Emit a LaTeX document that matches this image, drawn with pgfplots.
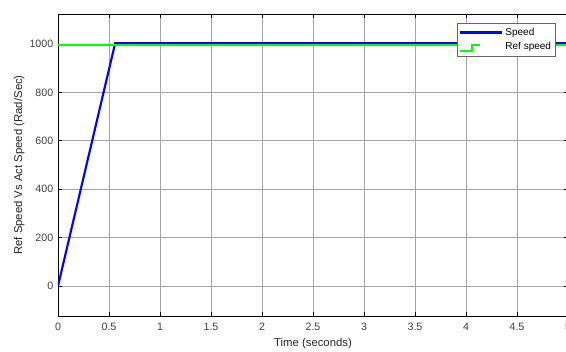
\documentclass[border=0pt]{standalone}
\usepackage{pgfplots}
\pgfplotsset{compat=1.18}
\usepackage{fontspec}
\setmainfont{Liberation Sans}
\definecolor{mblue}{RGB}{0,0,255}
\definecolor{mgreen}{RGB}{0,255,0}
\begin{document}
\begin{tikzpicture}
\begin{axis}[
  at={(0,0)}, anchor=south west,
  scale only axis, width=382.5pt, height=226.5pt,
  xmin=0, xmax=5, ymin=-124, ymax=1124,
  xtick={0,0.5,...,5}, ytick={0,200,...,1000},
  xticklabels={0,0.5,1,1.5,2,2.5,3,3.5,4,4.5,5},
  yticklabels={0,200,400,600,800,1000},
  scaled x ticks=false,
  grid=major,
  major grid style={gray!70, line width=0.6pt},
  axis line style={black, line width=0.6pt},
  tick style={black, line width=0.5pt},
  tick align=inside,
  major tick length=3pt,
  /pgf/number format/assume math mode=true,
  ticklabel style={font=\fontsize{8}{9}\selectfont, text=black!75},
  xticklabel style={yshift=-2pt},
  xlabel={Time (seconds)},
  ylabel={Ref Speed Vs Act Speed (Rad/Sec)},
  label style={font=\fontsize{8.5}{10}\selectfont, text=black!85},
  xlabel style={yshift=1pt},
  ylabel style={yshift=-3pt},
  legend cell align=left,
  legend style={at={(0.9765,0.970)}, anchor=north east, font=\fontsize{7.5}{8.5}\selectfont,
    draw=black!60, line width=0.5pt, inner sep=1.5pt},
]
\addplot[mblue, line width=1.6pt,
  legend image code/.code={\draw[mblue, line width=1.8pt] (0pt,0pt) -- (31pt,0pt);}]
  coordinates {(0,0) (0.56,1003) (5,1003)};
\addlegendentry{Speed}
\addplot[mgreen, line width=1.5pt,
  legend image code/.code={\draw[mgreen, line width=1.8pt] (0pt,-3pt) -- (9pt,-3pt) -- (9pt,1.5pt) -- (14.5pt,1.5pt);}]
  coordinates {(0,997) (5,997)};
\addlegendentry{Ref speed}
\end{axis}
\pgfresetboundingbox
\useasboundingbox (-43.5pt,-27pt) rectangle (381pt,237pt);
\end{tikzpicture}
\end{document}
